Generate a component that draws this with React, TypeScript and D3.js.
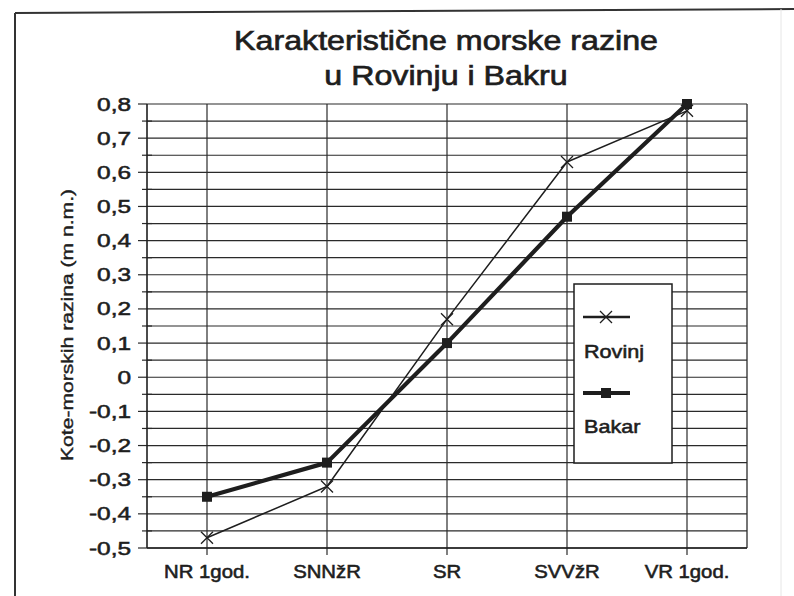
import React from 'react';
import * as d3 from 'd3';

const categories = ['NR 1god.', 'SNNžR', 'SR', 'SVVžR', 'VR 1god.'];
const rovinj = [-0.47, -0.32, 0.17, 0.63, 0.78];
const bakar = [-0.35, -0.25, 0.1, 0.47, 0.8];
const yTickValues = [0.8, 0.7, 0.6, 0.5, 0.4, 0.3, 0.2, 0.1, 0, -0.1, -0.2, -0.3, -0.4, -0.5];
const yTickLabels = ['0,8', '0,7', '0,6', '0,5', '0,4', '0,3', '0,2', '0,1', '0', '-0,1', '-0,2', '-0,3', '-0,4', '-0,5'];
const titleLines = ['Karakteristične morske razine', 'u Rovinju i Bakru'];
const yTitle = 'Kote-morskih razina (m n.m.)';
const seriesNames = ['Rovinj', 'Bakar'];

const FONT = '"Liberation Sans", Arial, sans-serif';
const INK = '#1e1e1e';

function SText({ x, y, sx = 1, rotate = 0, size, anchor = 'start', children, bold = 0.55 }: any) {
  return (
    <g transform={`translate(${x},${y}) rotate(${rotate}) scale(${sx},1)`}>
      <text
        textAnchor={anchor}
        fontSize={size}
        fontFamily={FONT}
        fill={INK}
        stroke={INK}
        strokeWidth={bold}
      >
        {children}
      </text>
    </g>
  );
}

export default function App() {
  const left = 147, right = 747, top = 104, bottom = 548;
  const x = d3.scaleBand<string>().domain(categories).range([left, right]);
  const cx = (c: string) => (x(c) as number) + x.bandwidth() / 2;
  const y = d3.scaleLinear().domain([-0.5, 0.8]).range([bottom, top]);
  const gridVals = d3.range(0, 27).map((i) => -0.5 + i * 0.05);

  const line = d3
    .line<number>()
    .x((_, i) => cx(categories[i]))
    .y((d) => y(d));

  const xMark = (px: number, py: number, s: number, key: any) => (
    <path
      key={key}
      d={`M${px - s},${py - s}L${px + s},${py + s}M${px - s},${py + s}L${px + s},${py - s}`}
      stroke={INK}
      strokeWidth={1.3}
      fill="none"
    />
  );

  const legX = 574, legY = 284, legW = 98, legH = 179;

  return (
    <svg
      width={794}
      height={596}
      style={{ position: 'absolute', left: 0, top: 0, background: '#fff' }}
    >
      <rect x={0} y={0} width={794} height={596} fill="#fff" />
      {/* outer frame */}
      <line x1={15} y1={13} x2={794} y2={9} stroke="#333" strokeWidth={2} />
      <line x1={15} y1={13} x2={15} y2={596} stroke="#333" strokeWidth={2} />
      <line x1={781} y1={9} x2={781} y2={596} stroke="#e6e6e6" strokeWidth={1} />

      {/* title */}
      {titleLines.map((t, i) => (
        <SText key={t} x={446} y={50 + i * 35} sx={1.15} size={28} anchor="middle" bold={0.7}>
          {t}
        </SText>
      ))}

      {/* horizontal gridlines */}
      {gridVals.map((v, i) => (
        <line
          key={'h' + i}
          x1={left}
          x2={right}
          y1={y(v)}
          y2={y(v)}
          stroke="#2a2a2a"
          strokeWidth={1.2}
        />
      ))}
      {/* y ticks */}
      {gridVals.map((v, i) => (
        <line
          key={'t' + i}
          x1={i % 2 === 0 ? left - 9 : left - 5}
          x2={i % 2 === 0 ? left : left + 5}
          y1={y(v)}
          y2={y(v)}
          stroke="#2a2a2a"
          strokeWidth={1.2}
        />
      ))}
      {/* vertical gridlines */}
      {categories.map((c) => (
        <line key={'v' + c} x1={cx(c)} x2={cx(c)} y1={top} y2={bottom + 7} stroke="#2a2a2a" strokeWidth={1.2} />
      ))}
      <line x1={left} x2={left} y1={top} y2={bottom} stroke="#1e1e1e" strokeWidth={1.6} />
      <line x1={right} x2={right} y1={top} y2={bottom} stroke="#2a2a2a" strokeWidth={1.3} />
      <line x1={left} x2={left + 0} y1={top} y2={top} stroke="#1e1e1e" strokeWidth={1.4} />
      <line x1={left} x2={right} y1={bottom} y2={bottom} stroke="#1e1e1e" strokeWidth={1.6} />

      {/* y tick labels */}
      {yTickValues.map((v, i) => (
        <SText key={'yl' + i} x={131} y={y(v) + 6.5} sx={1.32} size={18.5} anchor="end">
          {yTickLabels[i]}
        </SText>
      ))}

      {/* y axis title */}
      <SText x={73} y={325} rotate={-90} sx={1.28} size={16.5} anchor="middle" bold={0.4}>
        {yTitle}
      </SText>

      {/* x labels */}
      {categories.map((c) => (
        <SText key={'xl' + c} x={cx(c)} y={578} sx={1.13} size={18} anchor="middle">
          {c}
        </SText>
      ))}

      {/* Bakar series */}
      <path d={line(bakar) || ''} fill="none" stroke={INK} strokeWidth={4.2} strokeLinejoin="round" />
      {bakar.map((v, i) => (
        <rect key={'b' + i} x={cx(categories[i]) - 5} y={y(v) - 5} width={10} height={10} fill={INK} />
      ))}

      {/* Rovinj series */}
      <path d={line(rovinj) || ''} fill="none" stroke={INK} strokeWidth={1.5} strokeLinejoin="round" />
      {rovinj.map((v, i) => xMark(cx(categories[i]), y(v), 6, 'r' + i))}

      {/* legend */}
      <rect x={legX} y={legY} width={legW} height={legH} fill="#fff" stroke={INK} strokeWidth={1.5} />
      <line x1={legX + 9} x2={legX + 56} y1={legY + 33} y2={legY + 33} stroke={INK} strokeWidth={2.4} />
      {xMark(legX + 32, legY + 33, 6, 'lr')}
      <SText x={legX + 10} y={legY + 74} sx={1.2} size={18}>
        {seriesNames[0]}
      </SText>
      <line x1={legX + 9} x2={legX + 56} y1={legY + 109} y2={legY + 109} stroke={INK} strokeWidth={4.2} />
      <rect x={legX + 27} y={legY + 104} width={10} height={10} fill={INK} />
      <SText x={legX + 10} y={legY + 149} sx={1.2} size={18}>
        {seriesNames[1]}
      </SText>
    </svg>
  );
}
